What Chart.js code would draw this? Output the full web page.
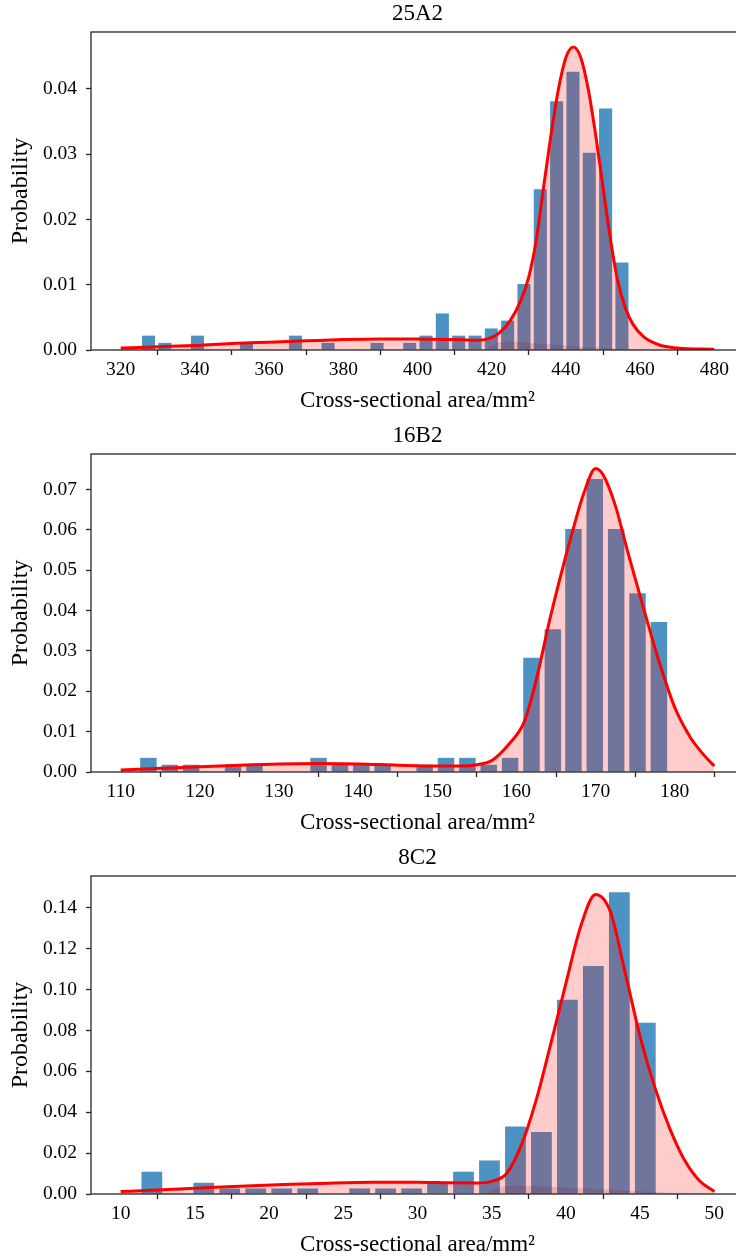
<!DOCTYPE html>
<html>
<head>
<meta charset="utf-8">
<script src="https://cdn.jsdelivr.net/npm/chart.js@4.4.1/dist/chart.umd.min.js"></script>
<style>
html,body{margin:0;padding:0;background:#fff;width:736px;height:1256px;overflow:hidden;position:relative}
.pn{position:absolute;left:0;width:760px;height:421px}
</style>
</head>
<body>
<div class="pn" style="top:0"><canvas id="c1" width="760" height="421"></canvas></div>
<div class="pn" style="top:422px"><canvas id="c2" width="760" height="421"></canvas></div>
<div class="pn" style="top:844px"><canvas id="c3" width="760" height="421"></canvas></div>
<script>
// 25A2
const binsA=[327.5,331.9,336.3,340.7,345.1,349.5,353.9,358.3,362.7,367.1,371.5,375.9,380.3,384.7,389.1,393.5,397.9,402.3,406.7,411.1,415.5,419.9,424.3,428.7,433.1,437.5,441.9,446.3,450.7,455.1];
const probA=[0.0022,0.0011,0,0.0022,0,0,0.0011,0,0,0.0022,0,0.0011,0,0,0.0011,0,0.0011,0.0022,0.0056,0.0022,0.0022,0.0033,0.0045,0.0101,0.0246,0.0381,0.0426,0.0302,0.0370,0.0134];
const curveXA=[320,330,340,350,360,370,380,390,400,410,416,419,422,425,428,430,432,434,436,438,440,442,444,446,448,450,452,454,456,458,461,465,470,480];
const curveYA=[0.0003,0.0005,0.0007,0.0010,0.0012,0.0014,0.0016,0.0017,0.0017,0.0016,0.0015,0.0017,0.0026,0.0045,0.0078,0.0112,0.0168,0.0250,0.0330,0.0400,0.0448,0.0464,0.0448,0.0400,0.0330,0.0250,0.0170,0.0105,0.0065,0.0040,0.0020,0.0008,0.0003,0.0001];
const ghostXA=[418.5,420,422,425,430,435,440,445,450,455,460,463];
const ghostYA=[0,0.0007,0.0012,0.0013,0.0011,0.0009,0.0007,0.0005,0.0004,0.0002,0.0001,0];

// 16B2
const binsB=[113.5,116.2,118.9,121.6,124.2,126.9,129.6,132.3,135.0,137.7,140.4,143.1,145.7,148.4,151.1,153.8,156.5,159.2,161.9,164.6,167.2,169.9,172.6,175.3,178.0];
const probB=[0.0035,0.0018,0.0018,0,0.0018,0.0018,0,0,0.0035,0.0018,0.0018,0.0018,0,0.0018,0.0035,0.0035,0.0018,0.0035,0.0283,0.0354,0.0602,0.0726,0.0602,0.0443,0.0372];
const curveXB=[110,115,120,125,130,135,140,145,150,153,155,157,159,161,162,163,164,165.5,167,168.5,170,171,172.5,174,176,178,180,182,184,185];
const curveYB=[0.0005,0.0009,0.0013,0.0017,0.0020,0.0021,0.0020,0.0017,0.0015,0.0015,0.0018,0.0030,0.0068,0.0125,0.0190,0.0270,0.0360,0.0480,0.0590,0.0690,0.0752,0.0735,0.0660,0.0550,0.0410,0.0275,0.0160,0.0085,0.0035,0.0015];

// 8C2
const binsC=[12.1,13.85,15.6,17.35,19.1,20.85,22.6,24.35,26.1,27.85,29.6,31.35,33.1,34.85,36.6,38.35,40.1,41.85,43.6,45.35];
const probC=[0.0109,0,0.0055,0.0027,0.0027,0.0027,0.0027,0,0.0027,0.0027,0.0027,0.0055,0.0109,0.0164,0.0330,0.0303,0.0950,0.1115,0.1476,0.0838];
const curveXC=[10,12,15,18,21,24,27,30,32,34,35,36,37,38,39,40,41,42,43,44,45,46,47,48,49,50];
const curveYC=[0.0012,0.0018,0.0028,0.0038,0.0046,0.0053,0.0057,0.0057,0.0055,0.0054,0.0062,0.0100,0.0240,0.0460,0.0740,0.1030,0.1310,0.1465,0.1380,0.1080,0.0770,0.0520,0.0320,0.0165,0.0065,0.0012];
const ghostXC=[34.5,35.5,36.5,38,40,43,46,48,50];
const ghostYC=[0,0.0033,0.0040,0.0038,0.0032,0.0021,0.0010,0.0004,0];

const FONT='"Liberation Serif","Times New Roman",serif';
const INK='#262626';

const frame={id:'frame',afterDatasetsDraw(ch){
  const a=ch.chartArea,c=ch.ctx;
  c.save();c.strokeStyle=INK;c.lineWidth=1.3;
  c.strokeRect(a.left,a.top,a.right-a.left,a.bottom-a.top);
  c.restore();
}};

const pts=(xs,ys)=>xs.map((x,i)=>({x:x,y:ys[i]}));

function makeChart(id,title,bins,probs,cx,cy,gx,gy,xmin,xmax,xstep,ymax,ystep){
  const ds=[
    {type:'line',data:pts(cx,cy),borderColor:'#ff0000',borderWidth:3,backgroundColor:'rgba(255,0,0,0.2)',
     fill:'origin',pointRadius:0,cubicInterpolationMode:'monotone',order:1},
    {type:'bar',data:pts(bins,probs),backgroundColor:'rgba(31,119,180,0.8)',
     barPercentage:0.8,categoryPercentage:1,order:2}
  ];
  if(gx) ds.push({type:'line',data:pts(gx,gy),borderWidth:0,borderColor:'rgba(0,0,0,0)',
     backgroundColor:'rgba(128,0,40,0.15)',fill:'origin',pointRadius:0,cubicInterpolationMode:'monotone',order:0});
  const tickFont={family:FONT,size:19.5};
  new Chart(document.getElementById(id),{
    type:'bar',
    data:{datasets:ds},
    plugins:[frame],
    options:{
      responsive:false,animation:false,devicePixelRatio:1,
      layout:{padding:{top:0.4,right:16,bottom:0,left:0}},
      plugins:{
        legend:{display:false},tooltip:{enabled:false},
        title:{display:true,text:title,fullSize:false,color:'#000',
          font:{family:FONT,size:23,weight:'normal',lineHeight:1.2},padding:{top:0,bottom:4}}
      },
      scales:{
        x:{type:'linear',min:xmin,max:xmax,offset:false,
          ticks:{stepSize:xstep,includeBounds:false,font:tickFont,color:'#000',padding:3,maxRotation:0,autoSkip:false},
          grid:{drawOnChartArea:false,drawTicks:true,tickLength:5,tickColor:INK,tickWidth:1.3},
          border:{display:false},
          title:{display:true,text:'Cross-sectional area/mm²',color:'#000',
            font:{family:FONT,size:23,lineHeight:1.2},padding:{top:0,bottom:6}},
          afterFit(s){s.height=71;}},
        y:{type:'linear',min:0,max:ymax,
          ticks:{stepSize:ystep,includeBounds:false,font:tickFont,color:'#000',padding:9,callback:v=>v.toFixed(2)},
          grid:{drawOnChartArea:false,drawTicks:true,tickLength:5,tickColor:INK,tickWidth:1.3},
          border:{display:false},
          title:{display:true,text:'Probability',color:'#000',
            font:{family:FONT,size:24,lineHeight:1.2},padding:{top:6,bottom:0}},
          afterFit(s){s.width=91;}}
      }
    }
  });
}

makeChart('c1','25A2',binsA,probA,curveXA,curveYA,ghostXA,ghostYA,312,488,20,0.0487,0.01);
makeChart('c2','16B2',binsB,probB,curveXB,curveYB,null,null,106.25,188.75,10,0.0788,0.01);
makeChart('c3','8C2',binsC,probC,curveXC,curveYC,ghostXC,ghostYC,8,52,5,0.1555,0.02);
</script>
</body>
</html>
